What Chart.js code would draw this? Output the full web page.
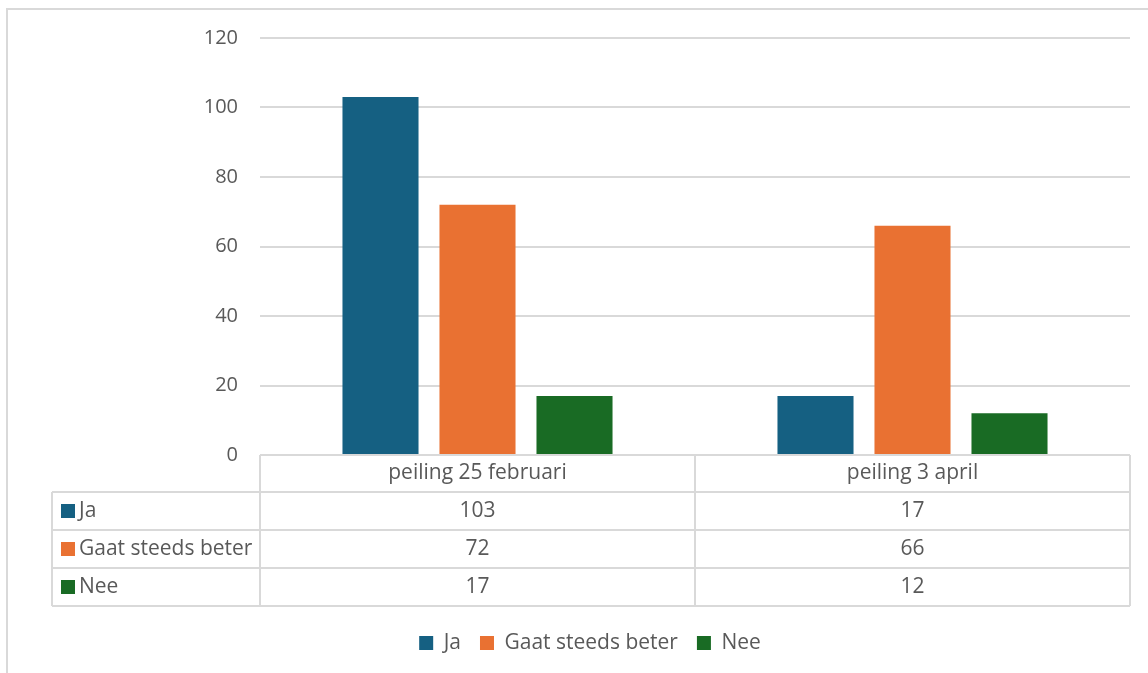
<!DOCTYPE html>
<html>
<head>
<meta charset="utf-8">
<script src="https://cdn.jsdelivr.net/npm/chart.js@4/dist/chart.umd.min.js"></script>
<style>
  html, body { margin: 0; padding: 0; background: #fff; overflow: hidden; }
  #wrap { position: relative; width: 1148px; height: 673px; }
  #frame { position: absolute; left: 6px; top: 8px; width: 1160px; height: 700px; border: 2px solid #d9d9d9; box-sizing: border-box; }
  canvas { position: absolute; left: 0; top: 0; }
</style>
</head>
<body>
<div id="wrap">
  <div id="frame"></div>
  <canvas id="c" width="1148" height="673"></canvas>
</div>
<script>
const categories = ["peiling 25 februari", "peiling 3 april"];
const seriesNames = ["Ja", "Gaat steeds beter", "Nee"];
const ja = [103, 17];
const gaatSteedsBeter = [72, 66];
const nee = [17, 12];
const seriesColors = ["#156082", "#E97132", "#196B24"];
const yTicks = [0, 20, 40, 60, 80, 100, 120];

const FONT = "'Open Sans', sans-serif";
const TEXT = "#595959";
const LINE = "#d9d9d9";

const seriesValues = [ja, gaatSteedsBeter, nee];

const tablePlugin = {
  id: 'dataTable',
  afterDraw(chart) {
    const ctx = chart.ctx;
    const xs = chart.scales.x;
    const area = chart.chartArea;
    const top = area.bottom;
    const rowH = [37, 38, 38, 38];
    const ys = [top];
    rowH.forEach(h => ys.push(ys[ys.length - 1] + h));
    const leftCol = 52;
    const centers = categories.map((_, i) => xs.getPixelForValue(i));
    const mid = (centers[0] + centers[1]) / 2;
    ctx.save();
    ctx.strokeStyle = LINE;
    ctx.lineWidth = 2;
    ctx.beginPath();
    ctx.moveTo(area.left, ys[0]); ctx.lineTo(area.right, ys[0]);
    for (let r = 1; r < ys.length; r++) {
      ctx.moveTo(leftCol, ys[r]); ctx.lineTo(area.right, ys[r]);
    }
    [area.left, mid, area.right].forEach(x => { ctx.moveTo(x, ys[0]); ctx.lineTo(x, ys[ys.length - 1]); });
    ctx.moveTo(leftCol, ys[1]); ctx.lineTo(leftCol, ys[ys.length - 1]);
    ctx.stroke();

    ctx.fillStyle = TEXT;
    ctx.font = "21px " + FONT;
    ctx.textBaseline = 'middle';
    ctx.textAlign = 'center';
    categories.forEach((c, i) => ctx.fillText(c, centers[i], (ys[0] + ys[1]) / 2));
    seriesNames.forEach((name, s) => {
      const yc = (ys[s + 1] + ys[s + 2]) / 2;
      seriesValues[s].forEach((v, i) => {
        ctx.fillStyle = TEXT;
        ctx.textAlign = 'center';
        ctx.fillText(String(v), centers[i], yc);
      });
      ctx.fillStyle = seriesColors[s];
      ctx.fillRect(61, yc - 7, 14, 14);
      ctx.fillStyle = TEXT;
      ctx.textAlign = 'left';
      ctx.fillText(name, 79, yc);
    });
    ctx.restore();
  }
};

new Chart(document.getElementById('c'), {
  type: 'bar',
  data: {
    labels: categories,
    datasets: seriesNames.map((n, s) => ({
      label: n,
      data: seriesValues[s],
      backgroundColor: seriesColors[s],
      borderWidth: 0,
      categoryPercentage: 0.669,
      barPercentage: 0.784
    }))
  },
  options: {
    responsive: false,
    animation: false,
    devicePixelRatio: 1,
    layout: { padding: { left: 50, right: 18, top: 38, bottom: 9.5 } },
    plugins: {
      tooltip: { enabled: false },
      legend: {
        position: 'bottom',
        labels: {
          boxWidth: 14, boxHeight: 14, padding: 19,
          color: TEXT,
          font: { family: FONT, size: 21 }
        }
      }
    },
    scales: {
      x: {
        ticks: { display: false },
        grid: { display: false },
        border: { display: false },
        afterFit(scale) { scale.height = 158.5; }
      },
      y: {
        min: 0, max: 120,
        afterBuildTicks(scale) { scale.ticks = yTicks.map(v => ({ value: v })); },
        ticks: { color: TEXT, font: { family: FONT, size: 20 }, padding: 22 },
        grid: { color: LINE, lineWidth: 2, drawTicks: false },
        border: { display: false },
        afterFit(scale) { scale.width = 210; }
      }
    }
  },
  plugins: [tablePlugin]
});
</script>
</body>
</html>
